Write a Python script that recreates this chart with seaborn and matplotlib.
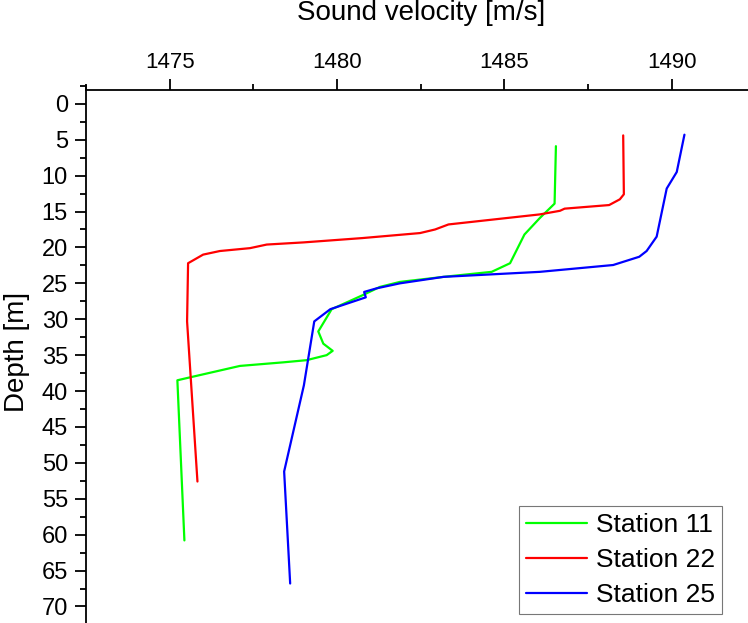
import matplotlib
matplotlib.use("Agg")
import matplotlib.pyplot as plt
import seaborn as sns
import pandas as pd
from matplotlib.ticker import MultipleLocator, FixedLocator

# ---- data ----
st11_depth = [5.9, 13.9, 15.9, 18.2, 22.2, 23.4, 24.1, 24.8, 25.5, 26.6, 28.6,
              31.7, 33.4, 34.4, 35.0, 35.7, 36.0, 36.5, 38.1, 38.5, 60.8]
st11_vel = [1486.54, 1486.50, 1486.06, 1485.60, 1485.17, 1484.62, 1483.18,
            1481.88, 1481.28, 1480.79, 1479.84, 1479.44, 1479.59, 1479.87,
            1479.69, 1479.09, 1478.40, 1477.10, 1475.60, 1475.23, 1475.44]

st22_depth = [4.4, 12.6, 13.3, 14.1, 14.6, 14.9, 15.4, 16.8, 17.5, 18.0, 18.7,
              19.3, 19.6, 20.1, 20.5, 21.0, 22.2, 30.3, 52.6]
st22_vel = [1488.55, 1488.57, 1488.45, 1488.13, 1486.80, 1486.66, 1486.06,
            1483.33, 1482.93, 1482.48, 1480.75, 1479.00, 1477.90, 1477.40,
            1476.50, 1476.00, 1475.55, 1475.52, 1475.83]

st25_depth = [4.3, 9.5, 11.8, 18.5, 20.5, 21.3, 22.45, 23.4, 24.1, 25.0, 25.7,
              26.2, 26.95, 28.6, 30.3, 39.2, 51.2, 66.8]
st25_vel = [1490.38, 1490.15, 1489.85, 1489.55, 1489.25, 1489.03, 1488.25,
            1486.06, 1483.18, 1481.88, 1481.18, 1480.81, 1480.86, 1479.80,
            1479.32, 1479.01, 1478.42, 1478.60]

station_names = ["Station 11", "Station 22", "Station 25"]
station_colors = ["#00FF00", "#FF0000", "#0000FF"]
x_ticks = [1475, 1480, 1485, 1490]
y_ticks = list(range(0, 75, 5))

frames = []
for name, d, v in zip(station_names,
                      [st11_depth, st22_depth, st25_depth],
                      [st11_vel, st22_vel, st25_vel]):
    frames.append(pd.DataFrame({"depth": d, "velocity": v, "station": name}))
df = pd.concat(frames, ignore_index=True)

# ---- style ----
sns.set_style("ticks")
plt.rcParams["font.family"] = ["Liberation Sans", "DejaVu Sans"]
plt.rcParams["text.color"] = "black"
plt.rcParams["axes.labelcolor"] = "black"
plt.rcParams["xtick.color"] = "black"
plt.rcParams["ytick.color"] = "black"

W, H = 748, 623
fig = plt.figure(figsize=(W / 100, H / 100), dpi=100)

# axes geometry (pixels)
left_px, top_px = 86, 85.85
right_px = 755.4
ax = fig.add_axes([left_px / W, 0.0, (right_px - left_px) / W, (H - top_px) / H])

sns.lineplot(data=df, x="velocity", y="depth", hue="station",
             palette=dict(zip(station_names, station_colors)),
             sort=False, estimator=None, orient="y", linewidth=1.6, ax=ax)

ax.set_xlim(1472.5, 1492.5)
ax.set_ylim(72.3, -2.5)

# spines: only left and top
ax.spines["right"].set_visible(False)
ax.spines["bottom"].set_visible(False)
ax.spines["top"].set_position(("data", -1.9))
for s in ("left", "top"):
    ax.spines[s].set_linewidth(1.3)
    ax.spines[s].set_color("black")

ax.xaxis.tick_top()
ax.xaxis.set_label_position("top")
ax.xaxis.set_major_locator(FixedLocator(x_ticks))
ax.xaxis.set_minor_locator(MultipleLocator(2.5))
ax.yaxis.set_major_locator(FixedLocator(y_ticks))
ax.yaxis.set_minor_locator(MultipleLocator(2.5))

ax.tick_params(axis="both", which="major", length=8, width=1.3, direction="out",
               colors="black", labelcolor="black", pad=4)
ax.tick_params(axis="both", which="minor", length=4, width=1.3, direction="out")
ax.tick_params(axis="x", which="both", top=True, bottom=False,
               labeltop=True, labelbottom=False)
ax.tick_params(axis="x", which="major", labelsize=16, pad=4)
ax.tick_params(axis="y", which="major", labelsize=17, pad=5)

ax.set_xlabel("Sound velocity [m/s]", fontsize=20, color="black")
ax.set_ylabel("Depth [m]", fontsize=20, color="black")
axh = H - top_px
ax.xaxis.set_label_coords(0.5, 1 + (top_px - 20) / axh)
ax.yaxis.set_label_coords((30 - left_px) / (right_px - left_px), 0.505)

leg = ax.legend(loc="upper left", bbox_to_anchor=(519 / W, 1 - 506 / H),
                bbox_transform=fig.transFigure, borderaxespad=0,
                fontsize=19, frameon=True, fancybox=False,
                handlelength=2.3, handletextpad=0.35, labelspacing=0.42,
                borderpad=0.27, title=None)
leg.get_frame().set_edgecolor("#555555")
leg.get_frame().set_linewidth(0.8)
for line in leg.get_lines():
    line.set_linewidth(1.6)
for t in leg.get_texts():
    t.set_color("black")

fig.savefig("out.png", dpi=100)
